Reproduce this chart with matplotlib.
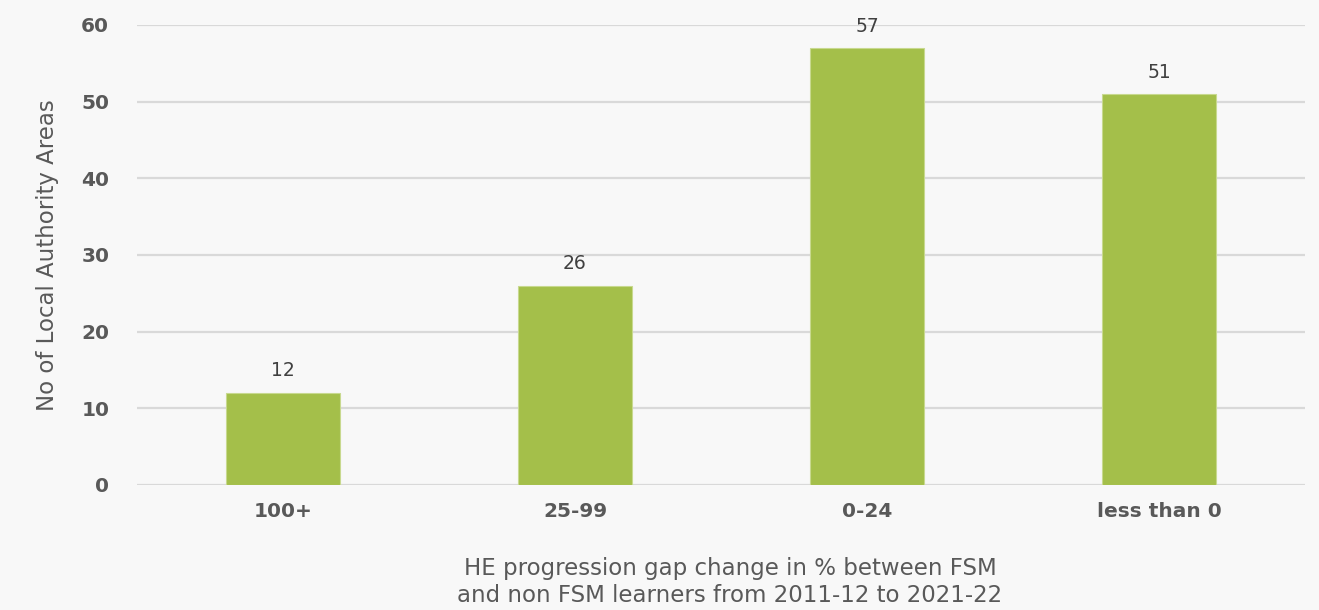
import matplotlib
matplotlib.use("Agg")
import matplotlib.pyplot as plt

categories = ["100+", "25-99", "0-24", "less than 0"]
values = [12, 26, 57, 51]
yticks = [0, 10, 20, 30, 40, 50, 60]

plt.rcParams['font.family'] = ['DejaVu Sans']
bg = "#f8f8f8"
fig = plt.figure(figsize=(13.19, 6.10), dpi=100, facecolor=bg)
ax = fig.add_axes([137/1319, 1-485/610, (1305-137)/1319, (485-25)/610])
ax.set_facecolor(bg)

x = range(len(categories))
bars = ax.bar(x, values, width=0.387, color="#a4bf4a", edgecolor="#c8d98f", linewidth=0.8, zorder=3)
for xi, v in zip(x, values):
    ax.annotate(str(v), (xi, v), xytext=(0, 9), textcoords="offset points",
                ha="center", va="bottom", fontsize=13.5, color="#404040")

ax.set_xlim(-0.5, 3.5)
ax.set_ylim(0, 60)
ax.set_yticks(yticks)
ax.yaxis.grid(True, color="#d9d9d9", linewidth=1.6, zorder=0)
ax.set_axisbelow(True)
for s in ax.spines.values():
    s.set_visible(False)
ax.tick_params(axis="both", length=0)
ax.tick_params(axis="y", pad=20)
ax.tick_params(axis="x", pad=12)
ax.set_xticks(list(x))
ax.set_xticklabels(categories)
for lbl in ax.get_xticklabels() + ax.get_yticklabels():
    lbl.set_fontweight("bold")
    lbl.set_fontsize(14.5)
    lbl.set_color("#595959")

ax.set_ylabel("No of Local Authority Areas", fontsize=16.5, color="#595959", labelpad=16)
fig.text(730/1319, 1-582/610, "HE progression gap change in % between FSM\nand non FSM learners from 2011-12 to 2021-22",
         ha="center", va="center", fontsize=16.5, color="#595959", linespacing=1.25)

fig.savefig("out.png", dpi=100, facecolor=bg)
